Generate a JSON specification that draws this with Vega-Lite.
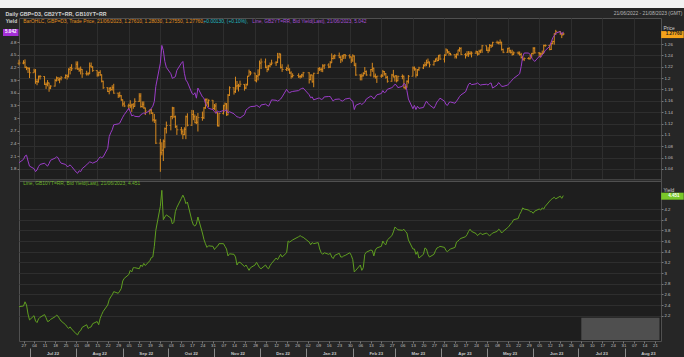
{
"$schema":"https://vega.github.io/schema/vega-lite/v6.json",
"width":642,"height":323,
"autosize":{"type":"none"},
"padding":{"left":19,"top":18,"right":23,"bottom":16},
"background":"#262626",
"config":{"view":{"fill":"#1e1e1e","stroke":"#505050","strokeWidth":1},
"axis":{"labelFont":"Liberation Sans","titleFont":"Liberation Sans","labelColor":"#c0c0c0","tickColor":"#777777","gridColor":"#2e2e2e","labelFontSize":4.3,"titleFontSize":4.9,"titleFontWeight":"normal","titleColor":"#d0d0d0"}},
"datasets":{
"last":[{"d":"2023-06-21","c":1.2776,"y2":5.042,"y10":4.451}],
"main":[
{"d":"2022-06-24","o":1.226,"h":1.2325,"l":1.2225,"c":1.2265,"y2":1.94,"y10":2.37},
{"d":"2022-06-27","o":1.2265,"h":1.2315,"l":1.2245,"c":1.227,"y2":2.02,"y10":2.38},
{"d":"2022-06-28","o":1.227,"h":1.233,"l":1.2175,"c":1.219,"y2":2.1,"y10":2.46},
{"d":"2022-06-29","o":1.219,"h":1.2205,"l":1.214,"c":1.218,"y2":2.12,"y10":2.4},
{"d":"2022-06-30","o":1.218,"h":1.2185,"l":1.209,"c":1.2175,"y2":1.98,"y10":2.23},
{"d":"2022-07-01","o":1.2175,"h":1.2185,"l":1.2,"c":1.2095,"y2":1.86,"y10":2.12},
{"d":"2022-07-04","o":1.2095,"h":1.2165,"l":1.209,"c":1.2125,"y2":1.8,"y10":2.2},
{"d":"2022-07-05","o":1.2125,"h":1.216,"l":1.19,"c":1.194,"y2":1.73,"y10":2.1},
{"d":"2022-07-06","o":1.194,"h":1.1985,"l":1.1875,"c":1.1935,"y2":1.77,"y10":2.07},
{"d":"2022-07-07","o":1.1935,"h":1.2045,"l":1.192,"c":1.2025,"y2":1.85,"y10":2.14},
{"d":"2022-07-08","o":1.2025,"h":1.2055,"l":1.1975,"c":1.203,"y2":1.9,"y10":2.17},
{"d":"2022-07-11","o":1.203,"h":1.2035,"l":1.188,"c":1.189,"y2":1.93,"y10":2.22},
{"d":"2022-07-12","o":1.189,"h":1.1925,"l":1.181,"c":1.189,"y2":1.89,"y10":2.16},
{"d":"2022-07-13","o":1.189,"h":1.1965,"l":1.1855,"c":1.1915,"y2":1.86,"y10":2.09},
{"d":"2022-07-14","o":1.1915,"h":1.192,"l":1.176,"c":1.1825,"y2":1.92,"y10":2.1},
{"d":"2022-07-15","o":1.1825,"h":1.1875,"l":1.1805,"c":1.186,"y2":2.0,"y10":2.13},
{"d":"2022-07-18","o":1.186,"h":1.1985,"l":1.185,"c":1.196,"y2":2.05,"y10":2.18},
{"d":"2022-07-19","o":1.196,"h":1.203,"l":1.194,"c":1.2,"y2":2.08,"y10":2.21},
{"d":"2022-07-20","o":1.2,"h":1.202,"l":1.195,"c":1.197,"y2":2.06,"y10":2.19},
{"d":"2022-07-21","o":1.197,"h":1.201,"l":1.191,"c":1.199,"y2":1.98,"y10":2.14},
{"d":"2022-07-22","o":1.199,"h":1.2035,"l":1.196,"c":1.2005,"y2":1.93,"y10":2.1},
{"d":"2022-07-25","o":1.2005,"h":1.2065,"l":1.199,"c":1.2045,"y2":1.9,"y10":2.03},
{"d":"2022-07-26","o":1.2045,"h":1.2065,"l":1.1975,"c":1.203,"y2":1.85,"y10":1.99},
{"d":"2022-07-27","o":1.203,"h":1.2175,"l":1.201,"c":1.2155,"y2":1.86,"y10":1.96},
{"d":"2022-07-28","o":1.2155,"h":1.22,"l":1.2065,"c":1.2185,"y2":1.89,"y10":1.99},
{"d":"2022-07-29","o":1.2185,"h":1.2245,"l":1.2125,"c":1.2165,"y2":1.85,"y10":1.95},
{"d":"2022-08-01","o":1.2165,"h":1.2295,"l":1.2155,"c":1.2245,"y2":1.72,"y10":1.86},
{"d":"2022-08-02","o":1.2245,"h":1.2295,"l":1.2145,"c":1.216,"y2":1.69,"y10":1.84},
{"d":"2022-08-03","o":1.216,"h":1.2185,"l":1.211,"c":1.214,"y2":1.75,"y10":1.9},
{"d":"2022-08-04","o":1.214,"h":1.2205,"l":1.2065,"c":1.2155,"y2":1.73,"y10":1.92},
{"d":"2022-08-05","o":1.2155,"h":1.216,"l":1.2005,"c":1.2075,"y2":1.8,"y10":1.98},
{"d":"2022-08-08","o":1.2075,"h":1.213,"l":1.2045,"c":1.2075,"y2":1.89,"y10":2.03},
{"d":"2022-08-09","o":1.2075,"h":1.2105,"l":1.2045,"c":1.2075,"y2":1.93,"y10":1.96},
{"d":"2022-08-10","o":1.2075,"h":1.2275,"l":1.207,"c":1.2215,"y2":1.96,"y10":1.98},
{"d":"2022-08-11","o":1.2215,"h":1.2275,"l":1.2185,"c":1.2195,"y2":1.95,"y10":1.99},
{"d":"2022-08-12","o":1.2195,"h":1.221,"l":1.211,"c":1.2135,"y2":1.93,"y10":2.05},
{"d":"2022-08-15","o":1.2135,"h":1.214,"l":1.2025,"c":1.2055,"y2":1.98,"y10":2.09},
{"d":"2022-08-16","o":1.2055,"h":1.2115,"l":1.203,"c":1.21,"y2":2.04,"y10":2.03},
{"d":"2022-08-17","o":1.21,"h":1.214,"l":1.204,"c":1.206,"y2":2.08,"y10":2.15},
{"d":"2022-08-18","o":1.206,"h":1.2065,"l":1.1925,"c":1.1945,"y2":2.06,"y10":2.22},
{"d":"2022-08-19","o":1.1945,"h":1.1955,"l":1.181,"c":1.183,"y2":2.08,"y10":2.28},
{"d":"2022-08-22","o":1.183,"h":1.184,"l":1.1755,"c":1.1765,"y2":2.28,"y10":2.4},
{"d":"2022-08-23","o":1.1765,"h":1.1835,"l":1.1715,"c":1.182,"y2":2.56,"y10":2.5},
{"d":"2022-08-24","o":1.182,"h":1.1845,"l":1.177,"c":1.18,"y2":2.65,"y10":2.55},
{"d":"2022-08-25","o":1.18,"h":1.1875,"l":1.178,"c":1.183,"y2":2.72,"y10":2.59},
{"d":"2022-08-26","o":1.183,"h":1.19,"l":1.1725,"c":1.1735,"y2":2.84,"y10":2.65},
{"d":"2022-08-29","o":1.1735,"h":1.1745,"l":1.165,"c":1.169,"y2":2.86,"y10":2.62},
{"d":"2022-08-30","o":1.169,"h":1.176,"l":1.166,"c":1.169,"y2":2.88,"y10":2.66},
{"d":"2022-08-31","o":1.169,"h":1.17,"l":1.16,"c":1.162,"y2":2.95,"y10":2.71},
{"d":"2022-09-01","o":1.162,"h":1.1625,"l":1.15,"c":1.1545,"y2":3.02,"y10":2.85},
{"d":"2022-09-02","o":1.1545,"h":1.159,"l":1.149,"c":1.151,"y2":3.08,"y10":2.9},
{"d":"2022-09-05","o":1.151,"h":1.155,"l":1.1445,"c":1.152,"y2":3.23,"y10":2.97},
{"d":"2022-09-06","o":1.152,"h":1.161,"l":1.147,"c":1.151,"y2":3.15,"y10":3.05},
{"d":"2022-09-07","o":1.151,"h":1.155,"l":1.1405,"c":1.153,"y2":3.05,"y10":3.02},
{"d":"2022-09-08","o":1.153,"h":1.156,"l":1.146,"c":1.15,"y2":3.07,"y10":3.1},
{"d":"2022-09-09","o":1.15,"h":1.1645,"l":1.1495,"c":1.159,"y2":3.04,"y10":3.1},
{"d":"2022-09-12","o":1.159,"h":1.1735,"l":1.158,"c":1.1685,"y2":3.03,"y10":3.08},
{"d":"2022-09-13","o":1.1685,"h":1.1735,"l":1.148,"c":1.15,"y2":3.08,"y10":3.15},
{"d":"2022-09-14","o":1.15,"h":1.159,"l":1.148,"c":1.154,"y2":3.1,"y10":3.12},
{"d":"2022-09-15","o":1.154,"h":1.159,"l":1.146,"c":1.1475,"y2":3.12,"y10":3.18},
{"d":"2022-09-16","o":1.1475,"h":1.148,"l":1.135,"c":1.142,"y2":3.11,"y10":3.14},
{"d":"2022-09-19","o":1.142,"h":1.145,"l":1.136,"c":1.144,"y2":3.18,"y10":3.23},
{"d":"2022-09-20","o":1.144,"h":1.146,"l":1.137,"c":1.138,"y2":3.23,"y10":3.29},
{"d":"2022-09-21","o":1.138,"h":1.14,"l":1.1235,"c":1.1265,"y2":3.28,"y10":3.3},
{"d":"2022-09-22","o":1.1265,"h":1.137,"l":1.121,"c":1.1255,"y2":3.39,"y10":3.5},
{"d":"2022-09-23","o":1.1255,"h":1.1275,"l":1.084,"c":1.0855,"y2":3.75,"y10":3.8},
{"d":"2022-09-26","o":1.0855,"h":1.093,"l":1.035,"c":1.0685,"y2":4.3,"y10":4.25},
{"d":"2022-09-27","o":1.0685,"h":1.087,"l":1.064,"c":1.073,"y2":4.72,"y10":4.55},
{"d":"2022-09-28","o":1.073,"h":1.092,"l":1.054,"c":1.089,"y2":4.6,"y10":4.0},
{"d":"2022-09-29","o":1.089,"h":1.113,"l":1.0765,"c":1.111,"y2":4.34,"y10":4.05},
{"d":"2022-09-30","o":1.111,"h":1.1235,"l":1.1025,"c":1.1165,"y2":4.2,"y10":4.09},
{"d":"2022-10-03","o":1.1165,"h":1.1335,"l":1.108,"c":1.1325,"y2":4.05,"y10":4.03},
{"d":"2022-10-04","o":1.1325,"h":1.1495,"l":1.1275,"c":1.1475,"y2":3.94,"y10":3.92},
{"d":"2022-10-05","o":1.1475,"h":1.149,"l":1.13,"c":1.132,"y2":3.96,"y10":3.95},
{"d":"2022-10-06","o":1.132,"h":1.134,"l":1.112,"c":1.115,"y2":3.98,"y10":4.15},
{"d":"2022-10-07","o":1.115,"h":1.117,"l":1.1,"c":1.109,"y2":4.13,"y10":4.23},
{"d":"2022-10-10","o":1.109,"h":1.114,"l":1.1005,"c":1.1055,"y2":4.3,"y10":4.4},
{"d":"2022-10-11","o":1.1055,"h":1.11,"l":1.0925,"c":1.1005,"y2":4.34,"y10":4.46},
{"d":"2022-10-12","o":1.1005,"h":1.1135,"l":1.0995,"c":1.11,"y2":4.06,"y10":4.4},
{"d":"2022-10-13","o":1.11,"h":1.134,"l":1.0925,"c":1.132,"y2":3.9,"y10":4.3},
{"d":"2022-10-14","o":1.132,"h":1.138,"l":1.115,"c":1.117,"y2":3.85,"y10":4.33},
{"d":"2022-10-17","o":1.117,"h":1.144,"l":1.116,"c":1.136,"y2":3.59,"y10":3.98},
{"d":"2022-10-18","o":1.136,"h":1.1435,"l":1.126,"c":1.132,"y2":3.55,"y10":3.9},
{"d":"2022-10-19","o":1.132,"h":1.136,"l":1.1205,"c":1.1215,"y2":3.6,"y10":3.88},
{"d":"2022-10-20","o":1.1215,"h":1.1335,"l":1.119,"c":1.1225,"y2":3.47,"y10":3.92},
{"d":"2022-10-21","o":1.1225,"h":1.1385,"l":1.106,"c":1.1305,"y2":3.71,"y10":4.05},
{"d":"2022-10-24","o":1.1305,"h":1.141,"l":1.125,"c":1.13,"y2":3.5,"y10":3.75},
{"d":"2022-10-25","o":1.13,"h":1.149,"l":1.128,"c":1.1475,"y2":3.47,"y10":3.63},
{"d":"2022-10-26","o":1.1475,"h":1.164,"l":1.146,"c":1.162,"y2":3.35,"y10":3.55},
{"d":"2022-10-27","o":1.162,"h":1.1645,"l":1.152,"c":1.1565,"y2":3.28,"y10":3.48},
{"d":"2022-10-28","o":1.1565,"h":1.1625,"l":1.149,"c":1.161,"y2":3.23,"y10":3.51},
{"d":"2022-10-31","o":1.161,"h":1.1615,"l":1.145,"c":1.1465,"y2":3.2,"y10":3.5},
{"d":"2022-11-01","o":1.1465,"h":1.1545,"l":1.144,"c":1.151,"y2":3.15,"y10":3.44},
{"d":"2022-11-02","o":1.151,"h":1.156,"l":1.138,"c":1.1395,"y2":3.11,"y10":3.48},
{"d":"2022-11-03","o":1.1395,"h":1.14,"l":1.115,"c":1.116,"y2":3.17,"y10":3.5},
{"d":"2022-11-04","o":1.116,"h":1.1385,"l":1.1145,"c":1.1375,"y2":3.14,"y10":3.55},
{"d":"2022-11-07","o":1.1375,"h":1.153,"l":1.136,"c":1.1515,"y2":3.18,"y10":3.55},
{"d":"2022-11-08","o":1.1515,"h":1.157,"l":1.143,"c":1.1545,"y2":3.16,"y10":3.5},
{"d":"2022-11-09","o":1.1545,"h":1.156,"l":1.1335,"c":1.1355,"y2":3.2,"y10":3.45},
{"d":"2022-11-10","o":1.1355,"h":1.172,"l":1.1345,"c":1.17,"y2":3.12,"y10":3.32},
{"d":"2022-11-11","o":1.17,"h":1.1855,"l":1.1685,"c":1.183,"y2":3.15,"y10":3.36},
{"d":"2022-11-14","o":1.183,"h":1.184,"l":1.171,"c":1.176,"y2":3.1,"y10":3.35},
{"d":"2022-11-15","o":1.176,"h":1.2025,"l":1.174,"c":1.186,"y2":3.06,"y10":3.3},
{"d":"2022-11-16","o":1.186,"h":1.195,"l":1.18,"c":1.1865,"y2":3.03,"y10":3.15},
{"d":"2022-11-17","o":1.1865,"h":1.19,"l":1.1765,"c":1.186,"y2":3.02,"y10":3.2},
{"d":"2022-11-18","o":1.186,"h":1.1955,"l":1.1845,"c":1.189,"y2":3.0,"y10":3.2},
{"d":"2022-11-21","o":1.189,"h":1.1895,"l":1.178,"c":1.1825,"y2":3.08,"y10":3.12},
{"d":"2022-11-22","o":1.1825,"h":1.1905,"l":1.181,"c":1.1885,"y2":3.19,"y10":3.15},
{"d":"2022-11-23","o":1.1885,"h":1.204,"l":1.187,"c":1.2035,"y2":3.22,"y10":3.1},
{"d":"2022-11-24","o":1.2035,"h":1.215,"l":1.203,"c":1.211,"y2":3.25,"y10":3.05},
{"d":"2022-11-25","o":1.211,"h":1.2125,"l":1.205,"c":1.209,"y2":3.27,"y10":3.1},
{"d":"2022-11-28","o":1.209,"h":1.2095,"l":1.1945,"c":1.1955,"y2":3.28,"y10":3.15},
{"d":"2022-11-29","o":1.1955,"h":1.2055,"l":1.1925,"c":1.2035,"y2":3.3,"y10":3.2},
{"d":"2022-11-30","o":1.2035,"h":1.2155,"l":1.196,"c":1.2055,"y2":3.28,"y10":3.15},
{"d":"2022-12-01","o":1.2055,"h":1.231,"l":1.205,"c":1.2265,"y2":3.25,"y10":3.1},
{"d":"2022-12-02","o":1.2265,"h":1.2345,"l":1.216,"c":1.2285,"y2":3.31,"y10":3.08},
{"d":"2022-12-05","o":1.2285,"h":1.2345,"l":1.2175,"c":1.219,"y2":3.33,"y10":3.15},
{"d":"2022-12-06","o":1.219,"h":1.2225,"l":1.2105,"c":1.215,"y2":3.3,"y10":3.1},
{"d":"2022-12-07","o":1.215,"h":1.223,"l":1.2135,"c":1.2215,"y2":3.28,"y10":3.08},
{"d":"2022-12-08","o":1.2215,"h":1.2275,"l":1.219,"c":1.224,"y2":3.35,"y10":3.14},
{"d":"2022-12-09","o":1.224,"h":1.2325,"l":1.2225,"c":1.2265,"y2":3.43,"y10":3.18},
{"d":"2022-12-12","o":1.2265,"h":1.23,"l":1.2215,"c":1.2275,"y2":3.42,"y10":3.28},
{"d":"2022-12-13","o":1.2275,"h":1.2445,"l":1.2265,"c":1.237,"y2":3.4,"y10":3.25},
{"d":"2022-12-14","o":1.237,"h":1.2445,"l":1.2345,"c":1.2425,"y2":3.42,"y10":3.3},
{"d":"2022-12-15","o":1.2425,"h":1.243,"l":1.217,"c":1.219,"y2":3.45,"y10":3.35},
{"d":"2022-12-16","o":1.219,"h":1.2245,"l":1.211,"c":1.215,"y2":3.5,"y10":3.3},
{"d":"2022-12-19","o":1.215,"h":1.22,"l":1.2125,"c":1.217,"y2":3.68,"y10":3.38},
{"d":"2022-12-20","o":1.217,"h":1.224,"l":1.2125,"c":1.215,"y2":3.62,"y10":3.6},
{"d":"2022-12-21","o":1.215,"h":1.2175,"l":1.2075,"c":1.209,"y2":3.6,"y10":3.58},
{"d":"2022-12-22","o":1.209,"h":1.212,"l":1.199,"c":1.203,"y2":3.62,"y10":3.6},
{"d":"2022-12-23","o":1.203,"h":1.2085,"l":1.201,"c":1.2045,"y2":3.63,"y10":3.62},
{"d":"2022-12-27","o":1.2045,"h":1.2085,"l":1.2005,"c":1.2025,"y2":3.65,"y10":3.68},
{"d":"2022-12-28","o":1.2025,"h":1.2055,"l":1.199,"c":1.203,"y2":3.68,"y10":3.7},
{"d":"2022-12-29","o":1.203,"h":1.2075,"l":1.2005,"c":1.2055,"y2":3.7,"y10":3.68},
{"d":"2022-12-30","o":1.2055,"h":1.211,"l":1.2015,"c":1.2095,"y2":3.71,"y10":3.67},
{"d":"2023-01-03","o":1.2095,"h":1.2105,"l":1.1905,"c":1.1975,"y2":3.55,"y10":3.58},
{"d":"2023-01-04","o":1.1975,"h":1.2065,"l":1.196,"c":1.2055,"y2":3.48,"y10":3.53},
{"d":"2023-01-05","o":1.2055,"h":1.206,"l":1.192,"c":1.1935,"y2":3.5,"y10":3.57},
{"d":"2023-01-06","o":1.1935,"h":1.2095,"l":1.184,"c":1.2085,"y2":3.43,"y10":3.55},
{"d":"2023-01-09","o":1.2085,"h":1.2185,"l":1.2075,"c":1.2165,"y2":3.47,"y10":3.57},
{"d":"2023-01-10","o":1.2165,"h":1.2195,"l":1.2125,"c":1.2155,"y2":3.47,"y10":3.45},
{"d":"2023-01-11","o":1.2155,"h":1.2185,"l":1.211,"c":1.215,"y2":3.44,"y10":3.38},
{"d":"2023-01-12","o":1.215,"h":1.2245,"l":1.2105,"c":1.2215,"y2":3.45,"y10":3.35},
{"d":"2023-01-13","o":1.2215,"h":1.2245,"l":1.216,"c":1.223,"y2":3.5,"y10":3.38},
{"d":"2023-01-16","o":1.223,"h":1.226,"l":1.2175,"c":1.2195,"y2":3.51,"y10":3.35},
{"d":"2023-01-17","o":1.2195,"h":1.23,"l":1.218,"c":1.227,"y2":3.51,"y10":3.37},
{"d":"2023-01-18","o":1.227,"h":1.2435,"l":1.2265,"c":1.2345,"y2":3.45,"y10":3.3},
{"d":"2023-01-19","o":1.2345,"h":1.24,"l":1.233,"c":1.239,"y2":3.4,"y10":3.27},
{"d":"2023-01-20","o":1.239,"h":1.242,"l":1.2335,"c":1.2395,"y2":3.44,"y10":3.33},
{"d":"2023-01-23","o":1.2395,"h":1.245,"l":1.235,"c":1.2365,"y2":3.45,"y10":3.37},
{"d":"2023-01-24","o":1.2365,"h":1.2395,"l":1.2265,"c":1.2325,"y2":3.42,"y10":3.3},
{"d":"2023-01-25","o":1.2325,"h":1.241,"l":1.229,"c":1.239,"y2":3.4,"y10":3.3},
{"d":"2023-01-26","o":1.239,"h":1.242,"l":1.2335,"c":1.241,"y2":3.42,"y10":3.32},
{"d":"2023-01-27","o":1.241,"h":1.242,"l":1.234,"c":1.2395,"y2":3.45,"y10":3.33},
{"d":"2023-01-30","o":1.2395,"h":1.242,"l":1.2345,"c":1.2375,"y2":3.47,"y10":3.38},
{"d":"2023-01-31","o":1.2375,"h":1.238,"l":1.2265,"c":1.232,"y2":3.42,"y10":3.33},
{"d":"2023-02-01","o":1.232,"h":1.242,"l":1.2285,"c":1.239,"y2":3.4,"y10":3.25},
{"d":"2023-02-02","o":1.239,"h":1.24,"l":1.221,"c":1.2225,"y2":3.2,"y10":3.02},
{"d":"2023-02-03","o":1.2225,"h":1.227,"l":1.204,"c":1.2055,"y2":3.3,"y10":3.05},
{"d":"2023-02-06","o":1.2055,"h":1.207,"l":1.196,"c":1.2035,"y2":3.35,"y10":3.15},
{"d":"2023-02-07","o":1.2035,"h":1.208,"l":1.196,"c":1.204,"y2":3.32,"y10":3.05},
{"d":"2023-02-08","o":1.204,"h":1.2105,"l":1.203,"c":1.208,"y2":3.35,"y10":3.1},
{"d":"2023-02-09","o":1.208,"h":1.2195,"l":1.2065,"c":1.2115,"y2":3.38,"y10":3.35},
{"d":"2023-02-10","o":1.2115,"h":1.2135,"l":1.204,"c":1.2055,"y2":3.45,"y10":3.39},
{"d":"2023-02-13","o":1.2055,"h":1.216,"l":1.203,"c":1.215,"y2":3.52,"y10":3.43},
{"d":"2023-02-14","o":1.215,"h":1.227,"l":1.211,"c":1.2175,"y2":3.5,"y10":3.42},
{"d":"2023-02-15","o":1.2175,"h":1.2185,"l":1.201,"c":1.2035,"y2":3.45,"y10":3.32},
{"d":"2023-02-16","o":1.2035,"h":1.208,"l":1.199,"c":1.2025,"y2":3.5,"y10":3.43},
{"d":"2023-02-17","o":1.2025,"h":1.204,"l":1.1915,"c":1.2035,"y2":3.55,"y10":3.47},
{"d":"2023-02-20","o":1.2035,"h":1.207,"l":1.2005,"c":1.204,"y2":3.58,"y10":3.5},
{"d":"2023-02-21","o":1.204,"h":1.2145,"l":1.202,"c":1.2115,"y2":3.65,"y10":3.6},
{"d":"2023-02-22","o":1.2115,"h":1.2125,"l":1.2045,"c":1.2075,"y2":3.6,"y10":3.55},
{"d":"2023-02-23","o":1.2075,"h":1.209,"l":1.199,"c":1.2015,"y2":3.62,"y10":3.53},
{"d":"2023-02-24","o":1.2015,"h":1.204,"l":1.192,"c":1.1945,"y2":3.68,"y10":3.62},
{"d":"2023-02-27","o":1.1945,"h":1.2075,"l":1.1935,"c":1.2055,"y2":3.72,"y10":3.7},
{"d":"2023-02-28","o":1.2055,"h":1.2145,"l":1.2015,"c":1.202,"y2":3.75,"y10":3.77},
{"d":"2023-03-01","o":1.202,"h":1.2045,"l":1.194,"c":1.204,"y2":3.8,"y10":3.86},
{"d":"2023-03-02","o":1.204,"h":1.205,"l":1.1925,"c":1.1955,"y2":3.78,"y10":3.84},
{"d":"2023-03-03","o":1.1955,"h":1.2045,"l":1.1945,"c":1.203,"y2":3.72,"y10":3.81},
{"d":"2023-03-06","o":1.203,"h":1.2065,"l":1.198,"c":1.2035,"y2":3.75,"y10":3.8},
{"d":"2023-03-07","o":1.2035,"h":1.2045,"l":1.182,"c":1.183,"y2":3.82,"y10":3.82},
{"d":"2023-03-08","o":1.183,"h":1.1865,"l":1.18,"c":1.1845,"y2":3.8,"y10":3.78},
{"d":"2023-03-09","o":1.1845,"h":1.196,"l":1.183,"c":1.1945,"y2":3.65,"y10":3.75},
{"d":"2023-03-10","o":1.1945,"h":1.2055,"l":1.1905,"c":1.2035,"y2":3.45,"y10":3.62},
{"d":"2023-03-13","o":1.2035,"h":1.2205,"l":1.203,"c":1.218,"y2":3.22,"y10":3.45},
{"d":"2023-03-14","o":1.218,"h":1.2205,"l":1.213,"c":1.216,"y2":3.3,"y10":3.45},
{"d":"2023-03-15","o":1.216,"h":1.217,"l":1.201,"c":1.2055,"y2":3.2,"y10":3.35},
{"d":"2023-03-16","o":1.2055,"h":1.216,"l":1.2035,"c":1.215,"y2":3.28,"y10":3.4},
{"d":"2023-03-17","o":1.215,"h":1.22,"l":1.2125,"c":1.218,"y2":3.23,"y10":3.28},
{"d":"2023-03-20","o":1.218,"h":1.2245,"l":1.216,"c":1.2225,"y2":3.25,"y10":3.35},
{"d":"2023-03-21","o":1.2225,"h":1.2285,"l":1.22,"c":1.2235,"y2":3.33,"y10":3.47},
{"d":"2023-03-22","o":1.2235,"h":1.2325,"l":1.221,"c":1.2275,"y2":3.4,"y10":3.45},
{"d":"2023-03-23","o":1.2275,"h":1.2345,"l":1.2245,"c":1.2285,"y2":3.35,"y10":3.35},
{"d":"2023-03-24","o":1.2285,"h":1.229,"l":1.219,"c":1.2235,"y2":3.31,"y10":3.3},
{"d":"2023-03-27","o":1.2235,"h":1.2315,"l":1.222,"c":1.2295,"y2":3.23,"y10":3.35},
{"d":"2023-03-28","o":1.2295,"h":1.2345,"l":1.2285,"c":1.2335,"y2":3.3,"y10":3.42},
{"d":"2023-03-29","o":1.2335,"h":1.2365,"l":1.229,"c":1.231,"y2":3.38,"y10":3.47},
{"d":"2023-03-30","o":1.231,"h":1.241,"l":1.23,"c":1.2395,"y2":3.42,"y10":3.48},
{"d":"2023-03-31","o":1.2395,"h":1.242,"l":1.232,"c":1.2335,"y2":3.47,"y10":3.5},
{"d":"2023-04-03","o":1.2335,"h":1.242,"l":1.2275,"c":1.2405,"y2":3.4,"y10":3.48},
{"d":"2023-04-04","o":1.2405,"h":1.2525,"l":1.2395,"c":1.2495,"y2":3.32,"y10":3.42},
{"d":"2023-04-05","o":1.2495,"h":1.2505,"l":1.2435,"c":1.246,"y2":3.3,"y10":3.4},
{"d":"2023-04-06","o":1.246,"h":1.2475,"l":1.2395,"c":1.2435,"y2":3.37,"y10":3.43},
{"d":"2023-04-07","o":1.2435,"h":1.2445,"l":1.24,"c":1.241,"y2":3.38,"y10":3.45},
{"d":"2023-04-10","o":1.241,"h":1.2425,"l":1.2345,"c":1.2385,"y2":3.35,"y10":3.48},
{"d":"2023-04-11","o":1.2385,"h":1.2435,"l":1.2345,"c":1.242,"y2":3.4,"y10":3.58},
{"d":"2023-04-12","o":1.242,"h":1.25,"l":1.2395,"c":1.2495,"y2":3.45,"y10":3.6},
{"d":"2023-04-13","o":1.2495,"h":1.2545,"l":1.2465,"c":1.252,"y2":3.51,"y10":3.63},
{"d":"2023-04-14","o":1.252,"h":1.2545,"l":1.2405,"c":1.2415,"y2":3.55,"y10":3.65},
{"d":"2023-04-17","o":1.2415,"h":1.244,"l":1.2345,"c":1.2405,"y2":3.62,"y10":3.68},
{"d":"2023-04-18","o":1.2405,"h":1.2475,"l":1.238,"c":1.2425,"y2":3.71,"y10":3.72},
{"d":"2023-04-19","o":1.2425,"h":1.2475,"l":1.2375,"c":1.2435,"y2":3.8,"y10":3.78},
{"d":"2023-04-20","o":1.2435,"h":1.2475,"l":1.2405,"c":1.244,"y2":3.83,"y10":3.82},
{"d":"2023-04-21","o":1.244,"h":1.247,"l":1.2365,"c":1.244,"y2":3.79,"y10":3.78},
{"d":"2023-04-24","o":1.244,"h":1.2485,"l":1.2425,"c":1.2465,"y2":3.81,"y10":3.74},
{"d":"2023-04-25","o":1.2465,"h":1.2475,"l":1.2395,"c":1.2425,"y2":3.83,"y10":3.7},
{"d":"2023-04-26","o":1.2425,"h":1.25,"l":1.241,"c":1.2475,"y2":3.8,"y10":3.73},
{"d":"2023-04-27","o":1.2475,"h":1.25,"l":1.244,"c":1.2495,"y2":3.78,"y10":3.75},
{"d":"2023-04-28","o":1.2495,"h":1.2585,"l":1.2445,"c":1.257,"y2":3.79,"y10":3.72},
{"d":"2023-05-01","o":1.257,"h":1.2575,"l":1.248,"c":1.249,"y2":3.8,"y10":3.75},
{"d":"2023-05-02","o":1.249,"h":1.2545,"l":1.244,"c":1.249,"y2":3.78,"y10":3.72},
{"d":"2023-05-03","o":1.249,"h":1.26,"l":1.247,"c":1.2575,"y2":3.82,"y10":3.7},
{"d":"2023-05-04","o":1.2575,"h":1.2595,"l":1.253,"c":1.2565,"y2":3.83,"y10":3.72},
{"d":"2023-05-05","o":1.2565,"h":1.264,"l":1.2555,"c":1.263,"y2":3.71,"y10":3.75},
{"d":"2023-05-08","o":1.263,"h":1.266,"l":1.2605,"c":1.2625,"y2":3.78,"y10":3.78},
{"d":"2023-05-09","o":1.2625,"h":1.2645,"l":1.2595,"c":1.2625,"y2":3.84,"y10":3.82},
{"d":"2023-05-10","o":1.2625,"h":1.268,"l":1.259,"c":1.263,"y2":3.8,"y10":3.8},
{"d":"2023-05-11","o":1.263,"h":1.264,"l":1.2485,"c":1.2505,"y2":3.75,"y10":3.75},
{"d":"2023-05-12","o":1.2505,"h":1.252,"l":1.244,"c":1.2455,"y2":3.75,"y10":3.78},
{"d":"2023-05-15","o":1.2455,"h":1.2535,"l":1.2445,"c":1.252,"y2":3.78,"y10":3.85},
{"d":"2023-05-16","o":1.252,"h":1.2545,"l":1.2445,"c":1.248,"y2":3.82,"y10":3.88},
{"d":"2023-05-17","o":1.248,"h":1.25,"l":1.2435,"c":1.2455,"y2":3.86,"y10":3.92},
{"d":"2023-05-18","o":1.2455,"h":1.25,"l":1.2395,"c":1.242,"y2":3.9,"y10":3.95},
{"d":"2023-05-19","o":1.242,"h":1.247,"l":1.2405,"c":1.2445,"y2":3.94,"y10":4.0},
{"d":"2023-05-22","o":1.2445,"h":1.247,"l":1.2415,"c":1.244,"y2":4.02,"y10":4.02},
{"d":"2023-05-23","o":1.244,"h":1.247,"l":1.2395,"c":1.2415,"y2":4.05,"y10":4.1},
{"d":"2023-05-24","o":1.2415,"h":1.2445,"l":1.2345,"c":1.2365,"y2":4.22,"y10":4.15},
{"d":"2023-05-25","o":1.2365,"h":1.239,"l":1.231,"c":1.2335,"y2":4.45,"y10":4.22},
{"d":"2023-05-26","o":1.2335,"h":1.2365,"l":1.23,"c":1.2345,"y2":4.54,"y10":4.2},
{"d":"2023-05-29","o":1.2345,"h":1.237,"l":1.233,"c":1.234,"y2":4.54,"y10":4.18},
{"d":"2023-05-30","o":1.234,"h":1.2415,"l":1.233,"c":1.2395,"y2":4.5,"y10":4.15},
{"d":"2023-05-31","o":1.2395,"h":1.2445,"l":1.2355,"c":1.2435,"y2":4.42,"y10":4.15},
{"d":"2023-06-01","o":1.2435,"h":1.2545,"l":1.2415,"c":1.2525,"y2":4.38,"y10":4.12},
{"d":"2023-06-02","o":1.2525,"h":1.2545,"l":1.243,"c":1.2445,"y2":4.34,"y10":4.16},
{"d":"2023-06-05","o":1.2445,"h":1.246,"l":1.237,"c":1.2435,"y2":4.46,"y10":4.2},
{"d":"2023-06-06","o":1.2435,"h":1.245,"l":1.2365,"c":1.2425,"y2":4.44,"y10":4.18},
{"d":"2023-06-07","o":1.2425,"h":1.2485,"l":1.241,"c":1.244,"y2":4.5,"y10":4.22},
{"d":"2023-06-08","o":1.244,"h":1.259,"l":1.2435,"c":1.2575,"y2":4.54,"y10":4.2},
{"d":"2023-06-09","o":1.2575,"h":1.2595,"l":1.255,"c":1.2575,"y2":4.6,"y10":4.25},
{"d":"2023-06-12","o":1.2575,"h":1.259,"l":1.249,"c":1.2505,"y2":4.7,"y10":4.35},
{"d":"2023-06-13","o":1.2505,"h":1.2625,"l":1.2495,"c":1.261,"y2":4.8,"y10":4.38},
{"d":"2023-06-14","o":1.261,"h":1.266,"l":1.2595,"c":1.2645,"y2":4.9,"y10":4.4},
{"d":"2023-06-15","o":1.2645,"h":1.279,"l":1.259,"c":1.278,"y2":4.95,"y10":4.42},
{"d":"2023-06-16","o":1.278,"h":1.285,"l":1.276,"c":1.282,"y2":5.01,"y10":4.39},
{"d":"2023-06-19","o":1.282,"h":1.283,"l":1.276,"c":1.2785,"y2":5.05,"y10":4.44},
{"d":"2023-06-20","o":1.2785,"h":1.28,"l":1.2705,"c":1.2765,"y2":4.98,"y10":4.4},
{"d":"2023-06-21","o":1.2761,"h":1.2803,"l":1.2755,"c":1.2776,"y2":5.042,"y10":4.451}
]},
"data":{"name":"main"},
"resolve":{"scale":{"x":"shared","y":"independent"},"axis":{"x":"independent","y":"independent"}},
"layer":[
{"data":{"name":"last"},
 "mark":{"type":"rect","color":"#f2f2f2"},
 "encoding":{
  "x":{"datum":1654936704000,"type":"temporal","scale":{"type":"utc","domain":[1656028800000,1692921600000]},"axis":null},
  "x2":{"datum":1694600000000},
  "y":{"datum":1.3376,"type":"quantitative","scale":{"domain":[1.0218,1.3059],"range":[161.3,0],"zero":false,"nice":false},"axis":null},
  "y2":{"datum":1.3235}}},
{"mark":{"type":"rule","color":"#d88a1f","strokeWidth":1},
 "encoding":{
  "x":{"field":"d","type":"temporal","scale":{"type":"utc","domain":[1656028800000,1692921600000]},
   "axis":{"orient":"bottom","values":[1656288000000,1656892800000,1657497600000,1658102400000,1658707200000,1659312000000,1659916800000,1660521600000,1661126400000,1661731200000,1662336000000,1662940800000,1663545600000,1664150400000,1664755200000,1665360000000,1665964800000,1666569600000,1667174400000,1667779200000,1668384000000,1668988800000,1669593600000,1670198400000,1670803200000,1671408000000,1672012800000,1672617600000,1673222400000,1673827200000,1674432000000,1675036800000,1675641600000,1676246400000,1676851200000,1677456000000,1678060800000,1678665600000,1679270400000,1679875200000,1680480000000,1681084800000,1681689600000,1682294400000,1682899200000,1683504000000,1684108800000,1684713600000,1685318400000,1685923200000,1686528000000,1687132800000,1687737600000,1688342400000,1688947200000,1689552000000,1690156800000,1690761600000,1691366400000,1691971200000,1692576000000],
   "format":"%d","tickSize":2,"labelPadding":0.5,"labelBaseline":"top","domain":false,"grid":false,"title":null,"labelOverlap":false,"labelFlush":false}},
  "y":{"field":"l","type":"quantitative","scale":{"domain":[1.0218,1.3059],"range":[161.3,0],"zero":false,"nice":false},
   "axis":{"orient":"right","values":[1.04,1.06,1.08,1.1,1.12,1.14,1.16,1.18,1.2,1.22,1.24,1.26],"format":"~g","tickSize":2,"labelPadding":1,"domain":false,"grid":true,
    "title":"Price","titleAngle":0,"titleX":2,"titleY":10,"titleAlign":"left","titleBaseline":"middle"}},
  "y2":{"field":"h"}}},
{"mark":{"type":"tick","orient":"horizontal","color":"#d88a1f","size":1.5,"thickness":1,"xOffset":-0.8},
 "encoding":{
  "x":{"field":"d","type":"temporal","scale":{"type":"utc","domain":[1656028800000,1692921600000]},
   "axis":{"orient":"top","domain":false,"ticks":false,"labels":false,"grid":false,
    "title":"BarOHLC, GBP=D3, Trade Price, 21/06/2023, 1.27610, 1.28030, 1.27550, 1.27760,","titleX":3.7,"titleY":3,"titleAlign":"left","titleBaseline":"middle","titleColor":"#e0901e"}},
  "y":{"field":"o","type":"quantitative","scale":{"domain":[1.0218,1.3059],"range":[161.3,0],"zero":false,"nice":false},"axis":null}}},
{"mark":{"type":"tick","orient":"horizontal","color":"#d88a1f","size":1.5,"thickness":1,"xOffset":0.8},
 "encoding":{
  "x":{"field":"d","type":"temporal","scale":{"type":"utc","domain":[1656028800000,1692921600000]},
   "axis":{"orient":"top","domain":false,"ticks":false,"labels":false,"grid":true,"gridColor":"#2e2e2e",
    "values":[1656892800000,1658707200000,1660521600000,1662336000000,1664150400000,1665964800000,1667779200000,1669593600000,1671408000000,1673222400000,1675036800000,1676851200000,1678665600000,1680480000000,1682294400000,1684108800000,1685923200000,1687737600000,1689552000000,1691366400000],
    "title":"+0.00130, (+0.10%),","titleX":184,"titleY":3,"titleAlign":"left","titleBaseline":"middle","titleColor":"#22b8c0"}},
  "y":{"field":"c","type":"quantitative","scale":{"domain":[1.0218,1.3059],"range":[161.3,0],"zero":false,"nice":false},"axis":null}}},
{"mark":{"type":"line","color":"#9b3dc8","strokeWidth":1},
 "encoding":{
  "x":{"field":"d","type":"temporal","scale":{"type":"utc","domain":[1656028800000,1692921600000]},
   "axis":{"orient":"bottom","offset":7,"values":[1656633600000,1659312000000,1661990400000,1664582400000,1667260800000,1669852800000,1672531200000,1675209600000,1677628800000,1680307200000,1682899200000,1685577600000,1688169600000,1690848000000],
    "format":"%b %y","tickSize":9,"tickColor":"#8a8a8a","labelOffset":23,"labelPadding":-6,"labelBaseline":"top","labelFontWeight":"bold","labelColor":"#c8c8c8","domain":false,"grid":false,"title":null,"labelFlush":false,"labelOverlap":false}},
  "y":{"field":"y2","type":"quantitative","scale":{"domain":[1.548,5.37],"range":[161.3,0],"zero":false,"nice":false},
   "axis":{"orient":"left","values":[1.8,2.1,2.4,2.7,3,3.3,3.6,3.9,4.2,4.5,4.8],"format":"~g","tickSize":2,"labelPadding":1,"domain":false,"grid":false,
    "title":"Yield","titleAngle":0,"titleX":-2.3,"titleY":3,"titleAlign":"right","titleBaseline":"middle","titleFontWeight":"bold"}}}},
{"mark":{"type":"line","color":"#5f9e20","strokeWidth":1},
 "encoding":{
  "x":{"field":"d","type":"temporal","scale":{"type":"utc","domain":[1656028800000,1692921600000]},
   "axis":{"orient":"top","offset":-163,"domain":true,"domainColor":"#505050","ticks":false,"labels":false,"grid":false,
    "title":"Line, GB10YT=RR, Bid Yield(Last), 21/06/2023, 4.451","titleX":3.7,"titleY":2.3,"titleAlign":"left","titleBaseline":"middle","titleColor":"#6db52a"}},
  "y":{"field":"y10","type":"quantitative","scale":{"domain":[1.725,4.725],"range":[323,163],"zero":false,"nice":false},
   "axis":{"orient":"right","values":[2.2,2.4,2.6,2.8,3,3.2,3.4,3.6,3.8,4,4.2],"format":"~g","tickSize":2,"labelPadding":1,"domain":false,"grid":true,
    "title":"Yield","titleAngle":0,"titleX":2,"titleY":172,"titleAlign":"left","titleBaseline":"middle"}}}},
{"data":{"name":"last"},
 "mark":{"type":"rect","color":"#4f4f4f"},
 "encoding":{
  "x":{"datum":1688342400000,"type":"temporal","scale":{"type":"utc","domain":[1656028800000,1692921600000]},"axis":null},
  "x2":{"datum":1692835200000},
  "y":{"datum":2.16,"type":"quantitative","scale":{"domain":[1.725,4.725],"range":[323,163],"zero":false,"nice":false},"axis":null},
  "y2":{"datum":1.745}}},
{"data":{"name":"last"},
 "mark":{"type":"bar","orient":"horizontal","color":"#a52fd8","height":7,"yOffset":-3.5},
 "encoding":{
  "x":{"datum":1655108640000,"type":"temporal","scale":{"type":"utc","domain":[1656028800000,1692921600000]},
   "axis":{"orient":"top","domain":false,"ticks":false,"labels":false,"grid":false,
    "title":"Line, GB2YT=RR, Bid Yield(Last), 21/06/2023, 5.042","titleX":232.7,"titleY":3,"titleAlign":"left","titleBaseline":"middle","titleColor":"#a64fd6"}},
  "x2":{"datum":1656000288000},
  "y":{"field":"y2","type":"quantitative","scale":{"domain":[1.548,5.37],"range":[161.3,0],"zero":false,"nice":false},"axis":null}}},
{"data":{"name":"last"},
 "mark":{"type":"text","color":"#ffffff","fontSize":4.5,"fontWeight":"bold","font":"Liberation Sans","align":"center","baseline":"middle"},
 "encoding":{
  "x":{"datum":1655554464000,"type":"temporal","scale":{"type":"utc","domain":[1656028800000,1692921600000]},
   "axis":{"orient":"top","domain":false,"ticks":false,"labels":false,"grid":false,
    "title":"21/06/2022 - 21/08/2023 (GMT)","titleX":663,"titleY":-5,"titleAlign":"right","titleBaseline":"middle","titleColor":"#b8b8b8"}},
  "y":{"field":"y2","type":"quantitative","scale":{"domain":[1.548,5.37],"range":[161.3,0],"zero":false,"nice":false},"axis":null},
  "text":{"field":"y2","type":"quantitative","format":".3f"}}},
{"data":{"name":"last"},
 "mark":{"type":"bar","orient":"horizontal","color":"#f5a31a","height":7,"yOffset":-3.5},
 "encoding":{
  "x":{"datum":1692930240000,"type":"temporal","scale":{"type":"utc","domain":[1656028800000,1692921600000]},
   "axis":{"orient":"top","offset":-161.3,"domain":true,"domainColor":"#505050","ticks":false,"labels":false,"grid":false,"title":null}},
  "x2":{"datum":1694226240000},
  "y":{"field":"c","type":"quantitative","scale":{"domain":[1.0218,1.3059],"range":[161.3,0],"zero":false,"nice":false},"axis":null}}},
{"data":{"name":"last"},
 "mark":{"type":"text","color":"#1a1a1a","fontSize":4.5,"fontWeight":"bold","font":"Liberation Sans","align":"center","baseline":"middle"},
 "encoding":{
  "x":{"datum":1693664640000,"type":"temporal","scale":{"type":"utc","domain":[1656028800000,1692921600000]},
   "axis":{"orient":"top","domain":false,"ticks":false,"labels":false,"grid":false,
    "title":"Daily GBP=D3, GB2YT=RR, GB10YT=RR","titleX":-14,"titleY":-5,"titleAlign":"left","titleBaseline":"middle","titleFontWeight":"bold","titleFontSize":5.3,"titleColor":"#d4d4d4"}},
  "y":{"field":"c","type":"quantitative","scale":{"domain":[1.0218,1.3059],"range":[161.3,0],"zero":false,"nice":false},"axis":null},
  "text":{"field":"c","type":"quantitative","format":".5f"}}},
{"data":{"name":"last"},
 "mark":{"type":"bar","orient":"horizontal","color":"#79c829","height":7,"yOffset":-3.5},
 "encoding":{
  "x":{"datum":1692930240000,"type":"temporal","scale":{"type":"utc","domain":[1656028800000,1692921600000]},"axis":null},
  "x2":{"datum":1694226240000},
  "y":{"field":"y10","type":"quantitative","scale":{"domain":[1.725,4.725],"range":[323,163],"zero":false,"nice":false},"axis":null}}},
{"data":{"name":"last"},
 "mark":{"type":"text","color":"#ffffff","fontSize":4.5,"fontWeight":"bold","font":"Liberation Sans","align":"center","baseline":"middle"},
 "encoding":{
  "x":{"datum":1693664640000,"type":"temporal","scale":{"type":"utc","domain":[1656028800000,1692921600000]},"axis":null},
  "y":{"field":"y10","type":"quantitative","scale":{"domain":[1.725,4.725],"range":[323,163],"zero":false,"nice":false},"axis":null},
  "text":{"field":"y10","type":"quantitative","format":".3f"}}}
]
}
